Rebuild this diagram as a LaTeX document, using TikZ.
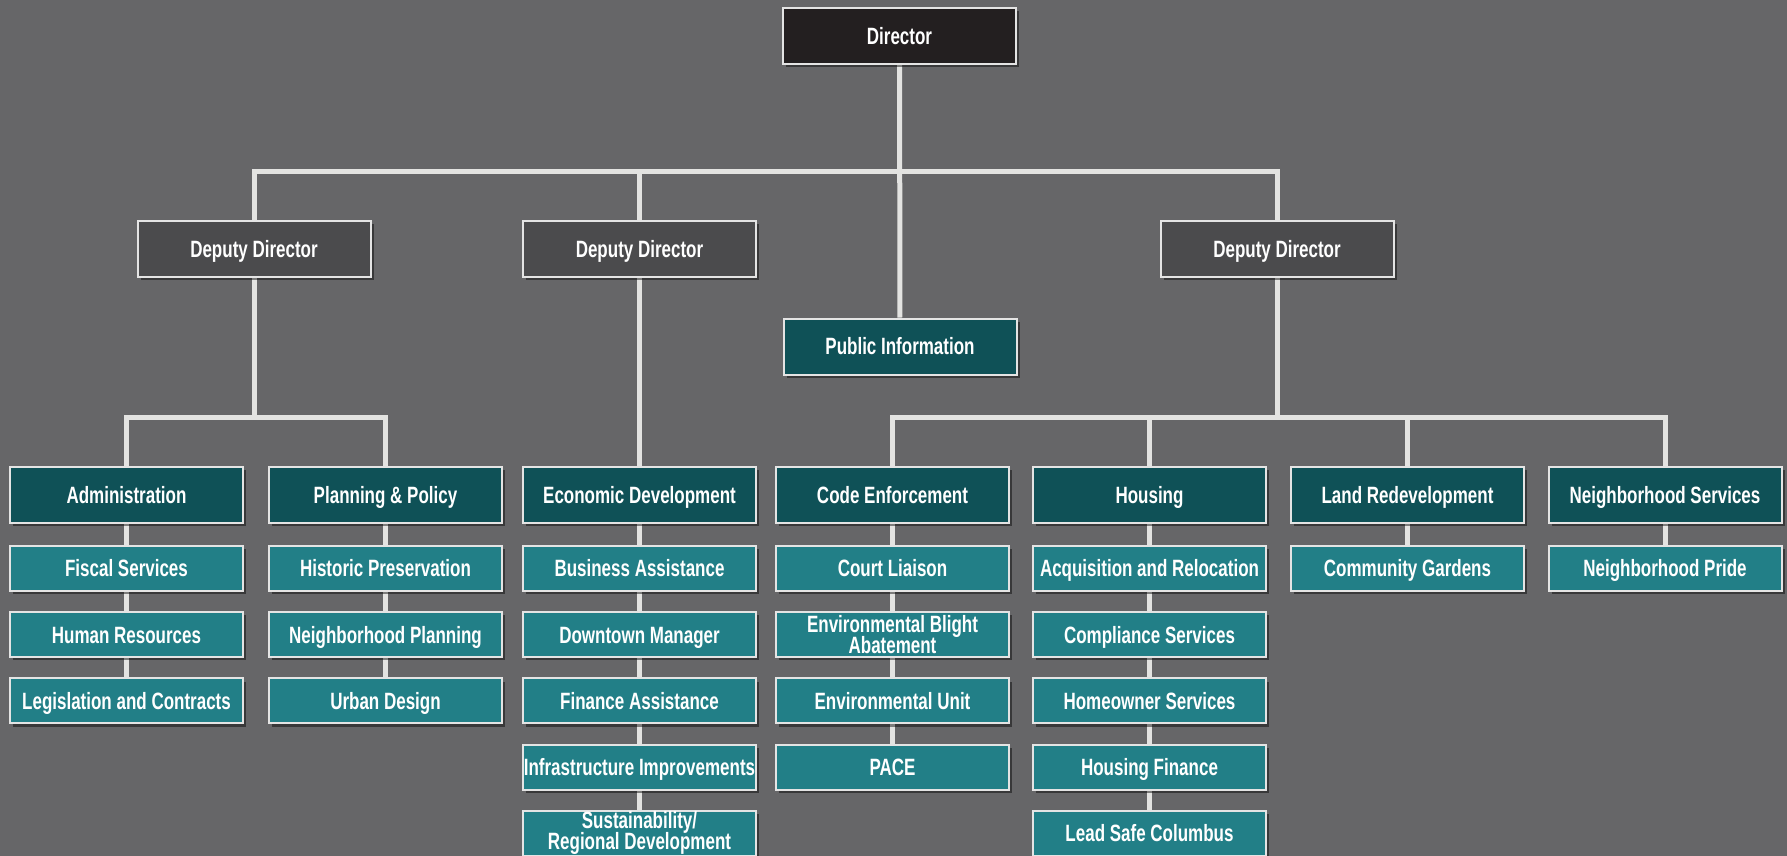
\documentclass[tikz,border=0pt]{standalone}
\usepackage{fontspec}
\setmainfont{Liberation Sans}[FakeStretch=0.72]
\usetikzlibrary{positioning,shadows,backgrounds}

\definecolor{backdrop}{HTML}{666668}
\definecolor{chieffill}{HTML}{231F20}
\definecolor{deputyfill}{HTML}{4B4B4D}
\definecolor{deptfill}{HTML}{0F5157}
\definecolor{unitfill}{HTML}{227F87}
\definecolor{boxline}{HTML}{E4E4E4}
\definecolor{linkline}{HTML}{E3E3E1}

\newcommand\orgboxfont{\bfseries\fontsize{11.8}{9.3}\selectfont}
\newcommand\orgtwofont{\bfseries\fontsize{11.8}{10.6}\selectfont\lineskiplimit-10pt\relax}

\begin{document}
\begin{tikzpicture}[x=0.5pt, y=-0.5pt]
    % Styles
    \tikzstyle{box} = [rectangle, draw=boxline, line width=1pt, text=white, inner sep=0pt,
        minimum width=116.5pt, align=center, text height=8.4pt, text depth=0pt,
        font=\orgboxfont,
        drop shadow={shadow xshift=1.6pt, shadow yshift=-1.6pt, opacity=0.45, fill=black}]
    \tikzstyle{chief} = [box, fill=chieffill, minimum height=28pt]
    \tikzstyle{deputy} = [box, fill=deputyfill, minimum height=28pt]
    \tikzstyle{dept} = [box, fill=deptfill, minimum height=28pt]
    \tikzstyle{unit} = [box, fill=unitfill, minimum height=22.5pt]
    \tikzstyle{twoline} = [text height=, text depth=, font=\orgtwofont]
    \tikzstyle{link} = [draw=linkline, line width=2.5pt]

    \useasboundingbox (0,0) rectangle (1787,856);
    \begin{scope}[on background layer]
        \fill[backdrop] (0,0) rectangle (1787,856);
    \end{scope}

    % Top
    \node[chief] (dir) at (899.5,36) {Director};
    \node[deputy] (dep1) at (254,249) {Deputy Director};
    \node[deputy] (dep2) at (639.5,249) {Deputy Director};
    \node[deputy] (dep3) at (1277,249) {Deputy Director};
    \node[dept] (pubinfo) at (900,346.5) {Public Information};

    % Departments
    \node[dept] (admin) at (126.5,495) {Administration};
    \node[dept] (planning) at (385.5,495) {Planning \& Policy};
    \node[dept] (econ) at (639.5,495) {Economic Development};
    \node[dept] (code) at (892.5,495) {Code Enforcement};
    \node[dept] (housing) at (1149.5,495) {Housing};
    \node[dept] (land) at (1407.5,495) {Land Redevelopment};
    \node[dept] (nbhd) at (1665,495) {Neighborhood Services};

    % Units
    \node[unit, below=10.5pt of admin] (fiscal) {Fiscal Services};
    \node[unit, below=9.6pt of fiscal] (hr) {Human Resources};
    \node[unit, below=9.6pt of hr] (legis) {Legislation and Contracts};

    \node[unit, below=10.5pt of planning] (historic) {Historic Preservation};
    \node[unit, below=9.6pt of historic] (nbplan) {Neighborhood Planning};
    \node[unit, below=9.6pt of nbplan] (urban) {Urban Design};

    \node[unit, below=10.5pt of econ] (business) {Business Assistance};
    \node[unit, below=9.6pt of business] (downtown) {Downtown Manager};
    \node[unit, below=9.6pt of downtown] (finassist) {Finance Assistance};
    \node[unit, below=9.6pt of finassist] (infra) {Infrastructure Improvements};
    \node[unit, twoline, below=9.6pt of infra] (sustain) {Sustainability/\\Regional Development};

    \node[unit, below=10.5pt of code] (court) {Court Liaison};
    \node[unit, twoline, below=9.6pt of court] (blight) {Environmental Blight\\Abatement};
    \node[unit, below=9.6pt of blight] (envunit) {Environmental Unit};
    \node[unit, below=9.6pt of envunit] (pace) {PACE};

    \node[unit, below=10.5pt of housing] (acquis) {Acquisition and Relocation};
    \node[unit, below=9.6pt of acquis] (compliance) {Compliance Services};
    \node[unit, below=9.6pt of compliance] (homeowner) {Homeowner Services};
    \node[unit, below=9.6pt of homeowner] (housfin) {Housing Finance};
    \node[unit, below=9.6pt of housfin] (leadsafe) {Lead Safe Columbus};

    \node[unit, below=10.5pt of land] (gardens) {Community Gardens};
    \node[unit, below=10.5pt of nbhd] (pride) {Neighborhood Pride};

    % Lines
    \coordinate (topbus) at (899.5,171);
    \coordinate (leftbus) at (254,417);
    \coordinate (rightbus) at (1277,417);
    \begin{scope}[on background layer]
        \draw[link] (dir) -- (pubinfo);
        \draw[link] (dep1) |- (topbus) -| (dep3);
        \draw[link] (dep2) -- (dep2 |- topbus);
        \draw[link] (dep1) -- (leftbus);
        \draw[link] (admin) |- (leftbus) -| (planning);
        \draw[link] (dep2) -- (econ);
        \draw[link] (dep3) -- (rightbus);
        \draw[link] (code) |- (rightbus) -| (nbhd);
        \draw[link] (housing) -- (housing |- rightbus);
        \draw[link] (land) -- (land |- rightbus);
        \draw[link] (admin) -- (legis);
        \draw[link] (planning) -- (urban);
        \draw[link] (econ) -- (sustain);
        \draw[link] (code) -- (pace);
        \draw[link] (housing) -- (leadsafe);
        \draw[link] (land) -- (gardens);
        \draw[link] (nbhd) -- (pride);
    \end{scope}
\end{tikzpicture}
\end{document}
